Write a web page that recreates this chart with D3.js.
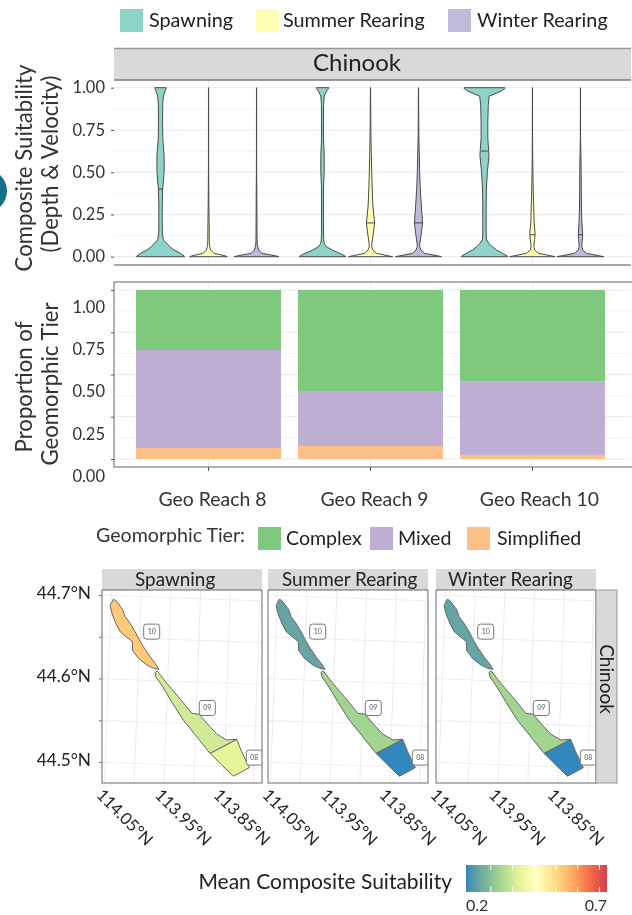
<!DOCTYPE html>
<html lang="en">

<head>
    <script src="https://d3js.org/d3.v7.min.js"></script>
    <meta charset="utf-8" />
    <style>
        html, body { margin: 0; padding: 0; background: #fff; overflow: hidden; }
        svg { display: block; filter: blur(0.45px); }
        text { font-family: Lato, sans-serif; fill: #222; }
    </style>
</head>

<body>
    <script>

        const w = 632;
        const h = 915;

        const reaches = ["Geo Reach 8", "Geo Reach 9", "Geo Reach 10"];
        const habitats = ["Spawning", "Summer Rearing", "Winter Rearing"];
        const tiers = ["Simplified", "Mixed", "Complex"];

        // Violin outlines: density at each suitability level, 1 = widest violin
        const suitLevels = [0, .005, .02, .04, .06, .08, .10, .14, .2, .3, .4, .5, .6, .7, .8, .9, .95, .98, .995, 1];
        const r8Spawning = [1, .98, .83, .56, .38, .25, .12, .075, .07, .07, .09, .15, .15, .095, .085, .09, .12, .19, .24, .24];
        const r8Summer = [.78, .7, .22, .09, .05, .035, .03, .03, .025, .015, .01, .005, .004, .003, .003, .003, .003, .003, .003, .003];
        const r8Winter = [.93, .8, .22, .09, .05, .03, .025, .02, .02, .015, .012, .006, .004, .003, .003, .003, .003, .003, .003, .003];
        const r9Spawning = [.97, .93, .72, .4, .16, .07, .055, .04, .04, .04, .04, .07, .07, .04, .04, .045, .07, .17, .25, .26];
        const r9Summer = [.92, .75, .25, .1, .05, .06, .08, .12, .17, .1, .07, .05, .035, .02, .012, .008, .005, .004, .004, .004];
        const r9Winter = [.96, .8, .25, .1, .05, .06, .08, .12, .17, .12, .075, .05, .035, .015, .01, .008, .005, .004, .004, .004];
        const r10Spawning = [.97, .94, .75, .5, .32, .18, .09, .07, .07, .07, .08, .12, .19, .14, .14, .16, .2, .7, .85, .85];
        const r10Summer = [.95, .78, .25, .09, .06, .07, .09, .11, .07, .05, .03, .02, .01, .006, .004, .003, .003, .003, .003, .003];
        const r10Winter = [.98, .8, .25, .09, .06, .06, .08, .09, .06, .04, .035, .03, .02, .006, .004, .003, .003, .003, .003, .003];
        const violinSeries = [r8Spawning, r8Summer, r8Winter, r9Spawning, r9Summer, r9Winter, r10Spawning, r10Summer, r10Winter];
        // null where no median bar can be made out
        const violinMedians = [.40, null, null, null, .20, .20, .625, .13, .13];
        const suitTicks = [0, .25, .5, .75, 1];

        // Geomorphic tier proportions per reach
        const tierComplex = [.355, .598, .54];
        const tierMixed = [.58, .325, .436];
        const tierSimplified = [.065, .077, .024];

        // Reach outlines as lon, lat
        const reach10Outline = [[-114.0463, 44.6960], [-114.0515, 44.6879], [-114.0470, 44.6770], [-114.0408, 44.6672], [-114.0331, 44.6574], [-114.0227, 44.6516], [-114.0117, 44.6459], [-114.0112, 44.6359], [-114.0007, 44.6262], [-113.9862, 44.6186], [-113.9750, 44.6150], [-113.9653, 44.6140], [-113.9723, 44.6210], [-113.9812, 44.6287], [-113.9931, 44.6404], [-114.0002, 44.6483], [-114.0079, 44.6580], [-114.0168, 44.6678], [-114.0255, 44.6754], [-114.0299, 44.6835], [-114.0404, 44.6931]];
        const reach9Outline = [[-113.9718, 44.6102], [-113.9681, 44.6119], [-113.9515, 44.5976], [-113.9312, 44.5820], [-113.9166, 44.5704], [-113.9077, 44.5628], [-113.8950, 44.5619], [-113.8792, 44.5495], [-113.8646, 44.5390], [-113.8475, 44.5323], [-113.8307, 44.5335], [-113.8747, 44.5156], [-113.8980, 44.5350], [-113.9215, 44.5544], [-113.9421, 44.5757], [-113.9599, 44.5953], [-113.9705, 44.6050]];
        const reach8Outline = [[-113.8307, 44.5335], [-113.8216, 44.5189], [-113.8079, 44.5001], [-113.8342, 44.4892], [-113.8747, 44.5156]];
        const reachOutlines = [reach8Outline, reach9Outline, reach10Outline];
        const reachTags = ["08", "09", "10"];
        const reachTagSpots = [[-113.8001, 44.5124], [-113.8819, 44.5698], [-113.9799, 44.6587]];

        // Mean composite suitability, reach 8 / 9 / 10
        const meanSpawning = [.39, .366, .54];
        const meanSummer = [.2, .32, .245];
        const meanWinter = [.2, .32, .245];
        const meanByHabitat = [meanSpawning, meanSummer, meanWinter];

        const suitColors = ["#3288bd", "#74b09b", "#a5d88f", "#e6f598", "#ffffbf", "#fee08b", "#fdae61", "#f46d43", "#d53e4f"];
        const legendTicks = [.288, .365, .442, .519, .596, .673];

        const lonTicks = [-114.05, -113.95, -113.85];
        const lonLabels = ["114.05°N", "113.95°N", "113.85°N"];
        const lonGrid = [-114.1, -114.05, -114, -113.95, -113.9, -113.85, -113.8, -113.75];
        const latGrid = [44.45, 44.5, 44.55, 44.6, 44.65, 44.7, 44.75];

        const svg = d3.select("body")
            .append("svg")
            .attr("width", w)
            .attr("height", h);

        // Cut off disc at the left edge of the figure
        svg.append("circle")
            .attr("cx", -15)
            .attr("cy", 191)
            .attr("r", 22)
            .style("fill", "#17708a");

        function swatchLegend(y, size, entries) {
            entries.forEach(e => {
                svg.append("rect")
                    .attr("x", e.x).attr("y", y).attr("width", 23).attr("height", 23)
                    .style("fill", e.color);
                svg.append("text")
                    .attr("x", e.tx).attr("y", y + 18)
                    .style("font-size", size + "px")
                    .text(e.name);
            });
        }

        const habitatColor = d3.scaleOrdinal().domain(habitats).range(["#8dd3c7", "#ffffb3", "#bebada"]);
        const tierColor = d3.scaleOrdinal().domain(tiers).range(["#fdc086", "#beaed4", "#7fc97f"]);

        swatchLegend(9, 19.8, [
            { x: 120, tx: 149, color: habitatColor("Spawning"), name: "Spawning" },
            { x: 256, tx: 283, color: habitatColor("Summer Rearing"), name: "Summer Rearing" },
            { x: 448, tx: 477, color: habitatColor("Winter Rearing"), name: "Winter Rearing" }
        ]);

        // ---- shared x scale
        const xBand = d3.scaleBand()
            .domain(reaches)
            .range([115, 626])
            .paddingInner(.105)
            .paddingOuter(.13);
        const xMid = d => xBand(d) + xBand.bandwidth() / 2;
        const panelLeft = 114;
        const panelRight = 631;

        function leftAxis(scale, format, labelShift) {
            const g = svg.append("g")
                .attr("transform", "translate(" + panelLeft + ",0)")
                .call(d3.axisLeft(scale).tickValues(suitTicks).tickSize(3).tickFormat(format));
            g.select(".domain").remove();
            g.selectAll("line").style("stroke", "#555");
            g.selectAll("text")
                .attr("x", -9)
                .attr("dy", labelShift)
                .style("font-size", "16.5px")
                .style("fill", "#333");
        }

        function grid(scale, top, bottom) {
            d3.range(0, 1.001, .125).forEach(v => {
                svg.append("line")
                    .attr("x1", panelLeft).attr("x2", panelRight)
                    .attr("y1", scale(v)).attr("y2", scale(v))
                    .style("stroke", v * 4 % 1 == 0 ? "#e9e9e9" : "#f3f3f3");
            });
            reaches.forEach(r => {
                svg.append("line")
                    .attr("x1", xMid(r)).attr("x2", xMid(r))
                    .attr("y1", top).attr("y2", bottom)
                    .style("stroke", "#ececec");
            });
        }

        // ---- violin panel
        const ySuit = d3.scaleLinear().domain([0, 1]).range([256.7, 87.7]);
        const habitatOffset = d3.scalePoint().domain(habitats).range([-48, 48]);
        const violinWidth = d3.scaleLinear().domain([0, 1]).range([0, 24]);

        grid(ySuit, 80, 265);

        svg.append("rect")
            .attr("x", panelLeft).attr("y", 48).attr("width", panelRight - panelLeft).attr("height", 32)
            .style("fill", "#d9d9d9");
        svg.append("line")
            .attr("x1", panelLeft).attr("x2", panelRight).attr("y1", 48.5).attr("y2", 48.5)
            .style("stroke", "#999").style("stroke-width", 1.5);
        svg.append("line")
            .attr("x1", panelLeft).attr("x2", panelRight).attr("y1", 80).attr("y2", 80)
            .style("stroke", "#777").style("stroke-width", 1.5);
        svg.append("line")
            .attr("x1", panelLeft).attr("x2", panelRight).attr("y1", 265).attr("y2", 265)
            .style("stroke", "#8a8a8a").style("stroke-width", 1.5);
        svg.append("text")
            .attr("x", 357).attr("y", 71)
            .attr("text-anchor", "middle")
            .style("font-size", "24px")
            .text("Chinook");

        const violins = [];
        reaches.forEach((r, i) => {
            habitats.forEach((hab, j) => {
                const k = i * 3 + j;
                violins.push({ cx: xMid(r) + habitatOffset(hab), hab: hab, dens: violinSeries[k], median: violinMedians[k] });
            });
        });

        violins.forEach(v => {
            const area = d3.area()
                .x0((d, i) => v.cx - violinWidth(v.dens[i]))
                .x1((d, i) => v.cx + violinWidth(v.dens[i]))
                .y(d => ySuit(d));
            svg.append("path")
                .attr("d", area(suitLevels))
                .style("fill", habitatColor(v.hab))
                .style("stroke", "#4a4a4a")
                .style("stroke-width", 1);
            if (v.median === null) return;
            const medIndex = d3.bisectLeft(suitLevels, v.median);
            const half = violinWidth(v.dens[medIndex]);
            svg.append("line")
                .attr("x1", v.cx - half).attr("x2", v.cx + half)
                .attr("y1", ySuit(v.median)).attr("y2", ySuit(v.median))
                .style("stroke", "#333")
                .style("stroke-width", .9);
        });

        leftAxis(ySuit, d3.format(".2f"), "0.32em");

        // ---- proportion panel
        const yProp = d3.scaleLinear().domain([0, 1]).range([459, 290]);

        grid(yProp, 282, 467);

        const tierRows = reaches.map((r, i) => ({ reach: r, Simplified: tierSimplified[i], Mixed: tierMixed[i], Complex: tierComplex[i] }));
        const stacked = d3.stack().keys(tiers)(tierRows);

        svg.selectAll(".tier")
            .data(stacked)
            .enter()
            .append("g")
            .attr("class", "tier")
            .style("fill", d => tierColor(d.key))
            .selectAll("rect")
            .data(d => d)
            .enter()
            .append("rect")
            .attr("x", d => xBand(d.data.reach))
            .attr("width", xBand.bandwidth())
            .attr("y", d => yProp(d[1]))
            .attr("height", d => yProp(d[0]) - yProp(d[1]));

        svg.append("rect")
            .attr("x", panelLeft).attr("y", 282).attr("width", panelRight - panelLeft + 2).attr("height", 185)
            .style("fill", "none")
            .style("stroke", "#999")
            .style("stroke-width", 1.5);

        // tick labels sit lower than their ticks in the original figure
        leftAxis(yProp, d3.format(".2f"), "1.35em");

        const xAxisG = svg.append("g")
            .attr("transform", "translate(0,467)")
            .call(d3.axisBottom(xBand).tickSize(4));
        xAxisG.select(".domain").remove();
        xAxisG.selectAll("line").style("stroke", "#555");
        xAxisG.selectAll("text")
            .attr("y", 39)
            .attr("dx", (d, i) => [4, 4, 7][i])
            .attr("dy", 0)
            .style("font-size", "19.4px")
            .style("fill", "#333");

        swatchLegend(527, 19.6, [
            { x: 258, tx: 286, color: tierColor("Complex"), name: "Complex" },
            { x: 370, tx: 398, color: tierColor("Mixed"), name: "Mixed" },
            { x: 467, tx: 497, color: tierColor("Simplified"), name: "Simplified" }
        ]);
        svg.append("text")
            .attr("x", 96).attr("y", 542)
            .style("font-size", "19.6px")
            .style("fill", "#333")
            .text("Geomorphic Tier:");

        // ---- y titles
        function yTitle(x, y, label, size) {
            svg.append("text")
                .attr("transform", "translate(" + x + "," + y + ") rotate(-90)")
                .attr("text-anchor", "middle")
                .style("font-size", size + "px")
                .style("fill", "#333")
                .text(label);
        }
        yTitle(32, 168, "Composite Suitability", 22.2);
        yTitle(58, 164, "(Depth & Velocity)", 22.2);
        yTitle(32, 387, "Proportion of", 22.2);
        yTitle(58, 384, "Geomorphic Tier", 22.2);

        // ---- maps (UTM 12N, which is why the graticule leans)
        const projection = d3.geoTransverseMercator()
            .rotate([111, 0])
            .scale(47840)
            .translate([0, 0]);
        const anchor = projection([-113.95, 44.6]);
        projection.translate([167.7 - anchor[0], 681.3 - anchor[1]]);
        const geoPath = d3.geoPath(projection);

        const suitColor = d3.scaleLinear()
            .domain(suitColors.map((c, i) => .2 + .5 * i / (suitColors.length - 1)))
            .range(suitColors)
            .interpolate(d3.interpolateLab);

        const mapLefts = [102, 268, 436];
        const stripLabelX = [135, 282, 448];
        const mapWidth = 160;
        const mapTop = 590;
        const mapBottom = 783;

        svg.append("defs")
            .append("clipPath")
            .attr("id", "mapClip")
            .append("rect")
            .attr("x", 102).attr("y", mapTop).attr("width", mapWidth).attr("height", mapBottom - mapTop);

        habitats.forEach((hab, m) => {
            const shift = mapLefts[m] - mapLefts[0];
            const panel = svg.append("g").attr("transform", "translate(" + shift + ",0)");

            panel.append("rect")
                .attr("x", 102).attr("y", 569).attr("width", mapWidth).attr("height", 21)
                .style("fill", "#d9d9d9");
            svg.append("text")
                .attr("x", stripLabelX[m]).attr("y", 585.5)
                .style("font-size", "18.9px")
                .text(hab);

            const inner = panel.append("g").attr("clip-path", "url(#mapClip)");

            lonGrid.forEach(lon => {
                inner.append("path")
                    .attr("d", geoPath({ type: "LineString", coordinates: [[lon, 44.4], [lon, 44.8]] }))
                    .style("fill", "none").style("stroke", "#ececec");
            });
            latGrid.forEach(lat => {
                inner.append("path")
                    .attr("d", geoPath({ type: "LineString", coordinates: [[-114.2, lat], [-113.7, lat]] }))
                    .style("fill", "none").style("stroke", "#ececec");
            });

            reachOutlines.forEach((outline, r) => {
                inner.append("path")
                    .attr("d", d3.line()(outline.map(p => projection(p))) + "Z")
                    .style("fill", suitColor(meanByHabitat[m][r]))
                    .style("stroke", "#666")
                    .style("stroke-width", 1);
            });

            reachTags.forEach((tag, r) => {
                const p = projection(reachTagSpots[r]);
                inner.append("rect")
                    .attr("x", p[0] - 8).attr("y", p[1] - 7.5).attr("width", 16).attr("height", 15).attr("rx", 2.5)
                    .style("fill", "#fff").style("stroke", "#777");
                inner.append("text")
                    .attr("x", p[0]).attr("y", p[1] + 2.5)
                    .attr("text-anchor", "middle")
                    .style("font-size", "7px")
                    .style("fill", "#555")
                    .text(tag);
            });

            panel.append("path")
                .attr("d", "M102," + mapTop + "V" + mapBottom + "H" + (102 + mapWidth) + "V" + mapTop)
                .style("fill", "none").style("stroke", "#9a9a9a").style("stroke-width", 1.5);
            panel.append("line")
                .attr("x1", 102).attr("x2", 102 + mapWidth).attr("y1", mapTop).attr("y2", mapTop)
                .style("stroke", "#666");

            lonTicks.forEach((lon, t) => {
                const bx = projection([lon, 44.476])[0];
                panel.append("text")
                    .attr("transform", "translate(" + (bx - 9 - t) + ",796) rotate(45)")
                    .style("font-size", "16.6px")
                    .text(lonLabels[t]);
            });
        });

        // Side strip on the last map
        svg.append("rect")
            .attr("x", 596).attr("y", 590).attr("width", 21).attr("height", 193)
            .style("fill", "#d9d9d9").style("stroke", "#9a9a9a");
        svg.append("text")
            .attr("transform", "translate(600,679) rotate(90)")
            .attr("text-anchor", "middle")
            .style("font-size", "19px")
            .text("Chinook");

        const yLat = d3.scaleLinear().domain([44.5, 44.7]).range([762, 595]);
        const latAxis = svg.append("g")
            .attr("transform", "translate(102,0)")
            .call(d3.axisLeft(yLat)
                .tickValues([44.5, 44.55, 44.6, 44.65, 44.7])
                .tickSize(3)
                .tickFormat(d => Math.round(d * 100) % 10 == 0 ? d3.format(".1f")(d) + "°N" : ""));
        latAxis.select(".domain").remove();
        latAxis.selectAll("line").style("stroke", "#777");
        latAxis.selectAll("text")
            .attr("x", -11)
            .attr("dy", "0.2em")
            .style("font-size", "17.2px");

        // ---- colour bar
        const legendX = d3.scaleLinear().domain([.2, .7]).range([466, 607]);
        const gradient = svg.select("defs")
            .append("linearGradient")
            .attr("id", "suitGradient");
        d3.range(0, 1.001, .05).forEach(t => {
            gradient.append("stop")
                .attr("offset", t)
                .attr("stop-color", suitColor(.2 + .5 * t));
        });
        svg.append("rect")
            .attr("x", legendX(.2)).attr("y", 865)
            .attr("width", legendX(.7) - legendX(.2)).attr("height", 27)
            .style("fill", "url(#suitGradient)");
        legendTicks.forEach(v => {
            svg.append("line")
                .attr("x1", legendX(v)).attr("x2", legendX(v)).attr("y1", 865).attr("y2", 870)
                .style("stroke", "#fff");
            svg.append("line")
                .attr("x1", legendX(v)).attr("x2", legendX(v)).attr("y1", 887).attr("y2", 892)
                .style("stroke", "#fff");
        });
        svg.append("text")
            .attr("x", 452).attr("y", 889)
            .attr("text-anchor", "end")
            .style("font-size", "21px")
            .text("Mean Composite Suitability");
        svg.append("text")
            .attr("x", legendX(.2)).attr("y", 911)
            .style("font-size", "16px")
            .style("fill", "#333")
            .text("0.2");
        svg.append("text")
            .attr("x", legendX(.7)).attr("y", 911)
            .attr("text-anchor", "end")
            .style("font-size", "16px")
            .style("fill", "#333")
            .text("0.7");

    </script>
</body>

</html>
